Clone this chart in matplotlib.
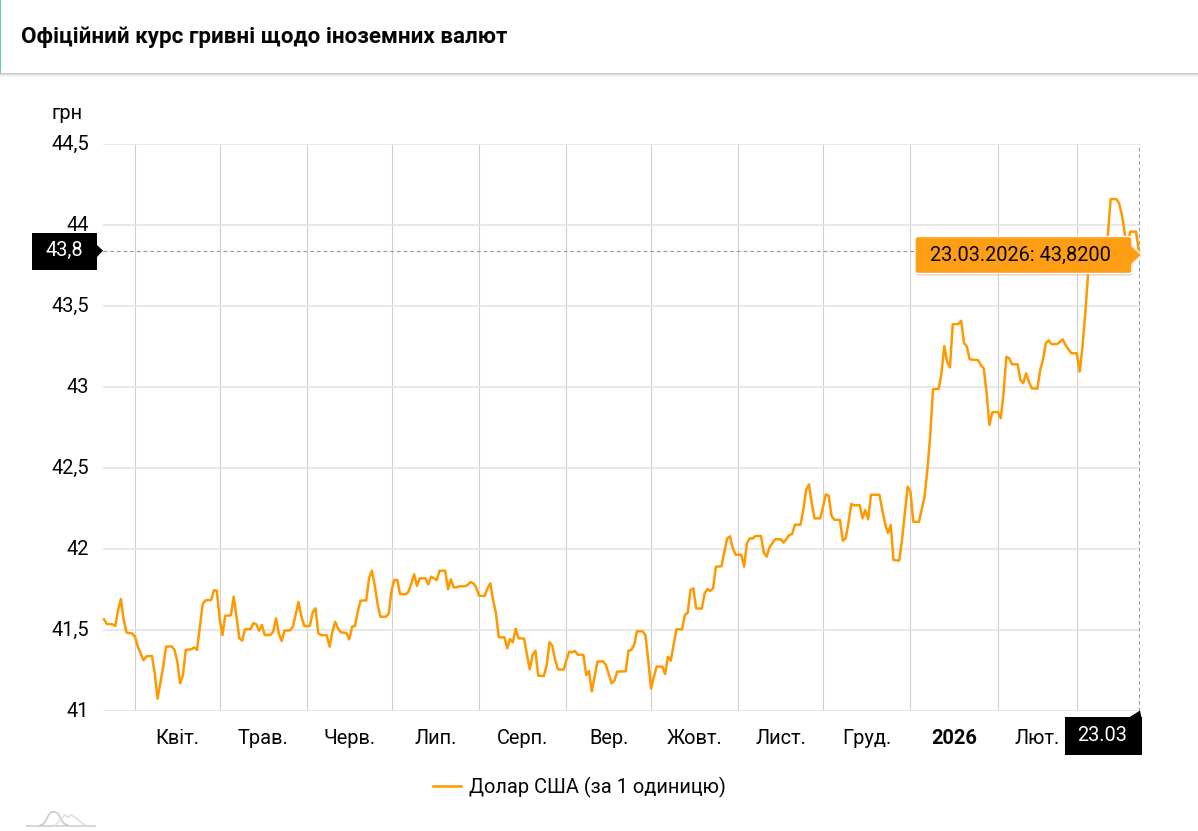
import matplotlib
matplotlib.use("Agg")
import matplotlib.pyplot as plt
from matplotlib.patches import Rectangle, FancyBboxPatch, Polygon
from matplotlib.ticker import FixedLocator, FixedFormatter
from matplotlib.transforms import ScaledTranslation

plt.rcParams['font.family'] = ['Roboto', 'DejaVu Sans']

TITLE = "Офіційний курс гривні щодо іноземних валют"
UNIT = "грн"
SERIES_NAME = "Долар США (за 1 одиницю)"
TOOLTIP = "23.03.2026: 43,8200"
CURRENT_VALUE = 43.84
CURRENT_DAY = 356
CURRENT_Y_LABEL = "43,8"
CURRENT_X_LABEL = "23.03"

# days counted from 1 April 2025
DAY_OFFSETS = [
    -11, -10, -8, -7, -6, -5, -4, -3, -1, 0,
    1, 2, 3, 4, 6, 7, 8, 10, 11, 13,
    14, 15, 16, 17, 18, 20, 21, 22, 23, 24,
    25, 27, 28, 29, 30, 31, 32, 34, 35, 36,
    37, 38, 39, 41, 42, 43, 44, 45, 46, 48,
    49, 50, 51, 52, 53, 55, 56, 58, 59, 60,
    62, 63, 64, 65, 66, 68, 69, 70, 71, 72,
    73, 75, 76, 77, 78, 79, 80, 82, 83, 84,
    85, 86, 87, 89, 90, 91, 92, 93, 94, 96,
    97, 98, 99, 100, 101, 103, 104, 105, 107, 108,
    110, 111, 112, 113, 114, 115, 117, 118, 119, 120,
    121, 122, 124, 125, 126, 127, 128, 129, 131, 132,
    133, 134, 135, 136, 138, 139, 140, 141, 142, 143,
    145, 146, 147, 148, 149, 150, 152, 153, 154, 155,
    156, 157, 159, 160, 161, 162, 163, 164, 166, 167,
    169, 170, 171, 174, 175, 176, 177, 178, 180, 181,
    182, 183, 184, 185, 187, 188, 189, 190, 191, 192,
    194, 195, 196, 197, 198, 199, 201, 202, 203, 204,
    205, 206, 208, 209, 210, 211, 212, 213, 215, 216,
    217, 218, 219, 220, 222, 223, 224, 225, 227, 229,
    230, 232, 233, 234, 236, 237, 238, 239, 240, 241,
    243, 244, 245, 246, 247, 248, 250, 251, 252, 253,
    254, 255, 257, 258, 259, 260, 261, 264, 265, 266,
    267, 268, 269, 271, 272, 273, 274, 275, 276, 278,
    280, 281, 282, 283, 285, 286, 287, 288, 289, 290,
    292, 293, 294, 295, 296, 299, 300, 301, 302, 303,
    304, 306, 307, 308, 309, 310, 311, 313, 314, 315,
    316, 317, 318, 320, 321, 322, 323, 324, 325, 327,
    329, 330, 332, 334, 335, 336, 337, 338, 339, 341,
    342, 344, 345, 346, 348, 349, 350, 351, 352, 353,
    355, 356,
]
USD_RATES = [
    41.566, 41.537, 41.535, 41.525, 41.623, 41.691, 41.562, 41.484, 41.479, 41.459,
    41.397, 41.356, 41.313, 41.337, 41.340, 41.233, 41.076, 41.274, 41.397, 41.399,
    41.377, 41.305, 41.171, 41.222, 41.377, 41.381, 41.393, 41.377, 41.521, 41.660,
    41.683, 41.685, 41.745, 41.743, 41.572, 41.469, 41.588, 41.591, 41.706, 41.582,
    41.449, 41.434, 41.504, 41.506, 41.543, 41.535, 41.496, 41.531, 41.469, 41.469,
    41.490, 41.572, 41.479, 41.432, 41.496, 41.498, 41.521, 41.673, 41.586, 41.525,
    41.525, 41.609, 41.634, 41.479, 41.469, 41.467, 41.397, 41.490, 41.551, 41.510,
    41.486, 41.481, 41.442, 41.521, 41.525, 41.613, 41.681, 41.683, 41.819, 41.866,
    41.778, 41.665, 41.582, 41.582, 41.603, 41.747, 41.809, 41.809, 41.722, 41.720,
    41.737, 41.788, 41.844, 41.772, 41.819, 41.819, 41.782, 41.829, 41.809, 41.866,
    41.866, 41.751, 41.813, 41.763, 41.763, 41.770, 41.770, 41.778, 41.796, 41.788,
    41.763, 41.712, 41.710, 41.757, 41.788, 41.685, 41.603, 41.455, 41.455, 41.387,
    41.444, 41.424, 41.508, 41.449, 41.447, 41.346, 41.257, 41.346, 41.372, 41.218,
    41.216, 41.284, 41.424, 41.403, 41.315, 41.257, 41.255, 41.315, 41.366, 41.362,
    41.370, 41.348, 41.346, 41.222, 41.247, 41.121, 41.212, 41.305, 41.307, 41.284,
    41.171, 41.187, 41.243, 41.245, 41.372, 41.377, 41.407, 41.492, 41.492, 41.469,
    41.315, 41.138, 41.212, 41.274, 41.274, 41.228, 41.335, 41.311, 41.407, 41.504,
    41.504, 41.593, 41.607, 41.747, 41.757, 41.634, 41.632, 41.726, 41.753, 41.741,
    41.757, 41.891, 41.893, 41.984, 42.066, 42.078, 42.004, 41.965, 41.965, 41.891,
    42.035, 42.066, 42.064, 42.080, 42.080, 41.977, 41.953, 42.010, 42.060, 42.060,
    42.039, 42.086, 42.091, 42.150, 42.150, 42.241, 42.364, 42.399, 42.282, 42.189,
    42.189, 42.261, 42.337, 42.329, 42.204, 42.181, 42.179, 42.051, 42.066, 42.158,
    42.278, 42.270, 42.270, 42.189, 42.241, 42.183, 42.335, 42.335, 42.241, 42.158,
    42.097, 42.148, 41.932, 41.928, 42.056, 42.220, 42.385, 42.354, 42.169, 42.167,
    42.323, 42.488, 42.700, 42.986, 42.988, 43.084, 43.253, 43.156, 43.121, 43.387,
    43.389, 43.409, 43.270, 43.249, 43.171, 43.165, 43.134, 43.115, 42.961, 42.765,
    42.844, 42.846, 42.807, 42.961, 43.187, 43.177, 43.140, 43.140, 43.043, 43.023,
    43.084, 43.033, 42.992, 42.990, 43.105, 43.167, 43.270, 43.288, 43.265, 43.265,
    43.294, 43.259, 43.208, 43.208, 43.095, 43.249, 43.455, 43.702, 43.835, 43.856,
    43.733, 43.877, 43.938, 44.160, 44.160, 44.134, 44.062, 43.949, 43.887, 43.959,
    43.959, 43.840,
]

Y_TICKS = [41, 41.5, 42, 42.5, 43, 43.5, 44, 44.5]
Y_TICK_LABELS = ["41", "41,5", "42", "42,5", "43", "43,5", "44", "44,5"]
MONTH_STARTS = [0, 30, 61, 91, 122, 153, 183, 214, 244, 275, 306, 334]
MONTH_LABELS = ["Квіт.", "Трав.", "Черв.", "Лип.", "Серп.", "Вер.", "Жовт.",
                "Лист.", "Груд.", "2026", "Лют."]

W, H = 1198, 831
INK = "#050505"
fig = plt.figure(figsize=(W / 100, H / 100), dpi=100, facecolor="white")

# ---------- chart ----------
ax = fig.add_axes([103 / W, (H - 711) / H, (1140 - 103) / W, (711 - 144) / H])
ax.set_xlim(-11.35, 356.4)
ax.set_ylim(41, 44.5)
for s in ax.spines.values():
    s.set_visible(False)

ax.set_yticks(Y_TICKS)
ax.set_yticklabels(Y_TICK_LABELS)
ax.tick_params(axis="y", length=0, pad=10, labelsize=14.4, labelcolor=INK)
up = ScaledTranslation(0, 1.5 / 100, fig.dpi_scale_trans)
for lab in ax.get_yticklabels():
    lab.set_transform(lab.get_transform() + up)

ax.xaxis.set_major_locator(FixedLocator(MONTH_STARTS))
ax.xaxis.set_major_formatter(FixedFormatter([""] * len(MONTH_STARTS)))
mids = [(a + b) / 2 for a, b in zip(MONTH_STARTS[:-1], MONTH_STARTS[1:])]
ax.xaxis.set_minor_locator(FixedLocator(mids))
ax.xaxis.set_minor_formatter(FixedFormatter(MONTH_LABELS))
ax.tick_params(axis="x", which="both", length=0)
ax.tick_params(axis="x", which="minor", pad=12.6, labelsize=14.4, labelcolor=INK)
for lab, txt in zip(ax.xaxis.get_minorticklabels(), MONTH_LABELS):
    if txt == "2026":
        lab.set_fontweight("bold")

ax.grid(True, axis="y", color="#e4e4e4", lw=1.2, zorder=1)
ax.grid(True, axis="x", color="#cfcfcf", lw=0.8, zorder=1)
ax.set_axisbelow(True)

ax.axhline(CURRENT_VALUE, color="#9a9a9a", lw=0.8, ls=(0, (3.5, 2.5)), zorder=2)
ax.axvline(CURRENT_DAY + 0.1, color="#9a9a9a", lw=0.8, ls=(0, (3.5, 2.5)), zorder=2)

line, = ax.plot(DAY_OFFSETS, USD_RATES, color="#ff9900", lw=1.8, label=SERIES_NAME,
                solid_joinstyle="round", zorder=3, clip_on=False)

fig.legend(handles=[line], loc="center", bbox_to_anchor=(579.5 / W, (H - 787.5) / H),
           frameon=False, fontsize=14.4, handlelength=1.4, handletextpad=0.36,
           borderpad=0, labelcolor=INK)

# ---------- overlay in pixel space: header and markers ----------
ov = fig.add_axes([0, 0, 1, 1], facecolor="none")
ov.set_xlim(0, W)
ov.set_ylim(H, 0)
ov.axis("off")
ov.set_zorder(5)

for i, a in enumerate([0.42, 0.28, 0.14, 0.06]):
    ov.add_patch(Rectangle((0, 73 + i), W, 1, fc="#808080", alpha=a, lw=0))
ov.add_patch(Rectangle((0, 0), 1.2, 73, fc="#5fcf9f", lw=0))
ov.text(21, 36.5, TITLE, fontsize=16.15, fontweight="bold", va="center", ha="left", color=INK)
ov.text(51.5, 113.5, UNIT, fontsize=14.4, va="center", ha="left", color=INK)

# y marker
ov.add_patch(Rectangle((32, 233), 65, 37, fc="black", lw=0))
ov.add_patch(Polygon([(97, 245), (103, 250.7), (97, 257)], closed=True, fc="black", lw=0))
ov.text(64, 250.5, CURRENT_Y_LABEL, color="white", fontsize=14.4, ha="center", va="center")

# x marker
ov.add_patch(Rectangle((1064.5, 717), 77, 38, fc="black", lw=0))
ov.add_patch(Polygon([(1129, 717.5), (1140, 710.5), (1141.5, 717.5)], closed=True, fc="black", lw=0))
ov.text(1102.5, 735.5, CURRENT_X_LABEL, color="white", fontsize=14.4, ha="center", va="center")

# tooltip
ov.add_patch(FancyBboxPatch((915.5, 238), 217, 37.5, boxstyle="round,pad=0,rounding_size=3",
                            fc="#a0a0a0", ec="none", alpha=0.45, zorder=5.5))
ov.add_patch(FancyBboxPatch((915, 236.5), 217, 37, boxstyle="round,pad=0,rounding_size=3",
                            fc="#fe9d10", ec="white", lw=1.0, alpha=0.98, zorder=6))
ov.plot([1132, 1141.5, 1132], [245, 255, 265], color="#eeeeee", lw=1.2, zorder=6.5)
ov.add_patch(Polygon([(1131, 246), (1140.5, 255), (1131, 264)], closed=True,
                     fc="#fe9d10", ec="none", zorder=7))
ov.text(930, 255.5, TOOLTIP, color=INK, fontsize=14.4, ha="left", va="center", zorder=8)

# watermark logo
ov.plot([27, 95], [825.7, 825.7], color="#d6d6d6", lw=1.4)
ov.plot([40, 44, 47, 50, 54, 58, 61, 64, 68], [825.5, 823.5, 818, 813, 811.5, 813.5, 819, 823.5, 825.5], color="#c9c9c9", lw=1.2)
ov.plot([55, 60, 65, 68, 71, 77, 85], [825.5, 820, 815, 817.5, 814.8, 819, 825.5], color="#e0e0e0", lw=1.2)

fig.savefig("out.png", dpi=100, facecolor="white")
